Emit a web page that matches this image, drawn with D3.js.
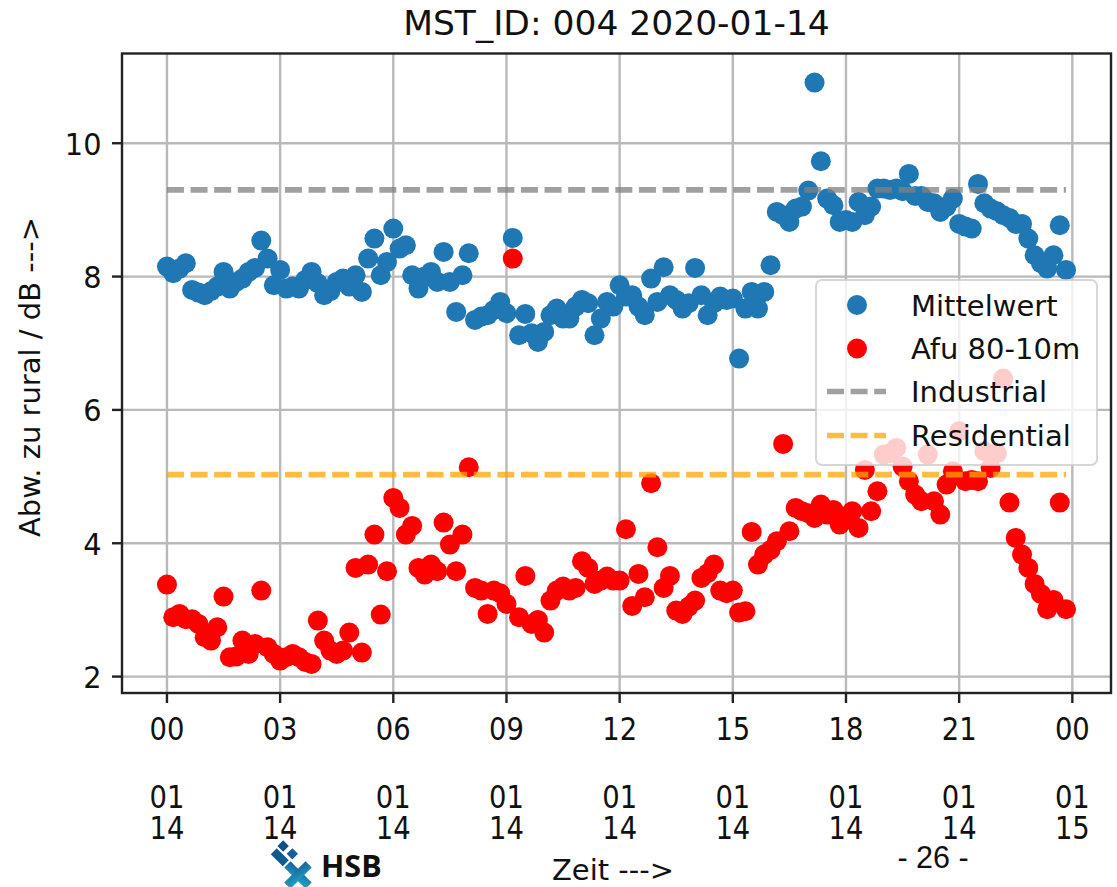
<!DOCTYPE html>
<html>
<head>
<meta charset="utf-8">
<script src="https://cdn.jsdelivr.net/npm/d3@7"></script>
<style>
  html, body { margin: 0; padding: 0; background: #fff; }
  svg { display: block; font-family: "DejaVu Sans", sans-serif; }
</style>
</head>
<body>
<svg id="chart" width="1117" height="887"></svg>
<script>
// ---- data -------------------------------------------------------------
const chartTitle = "MST_ID: 004 2020-01-14";
const startTime = "2020-01-14T00:00:00";
const stepMinutes = 10;

// Mittelwert (10-minute readings, 00:00 ... 23:50)
const mittelwert = [
  8.15, 8.05, 8.12, 8.20, 7.80, 7.76,
  7.72, 7.78, 7.85, 8.07, 7.82, 7.92,
  7.97, 8.07, 8.13, 8.54, 8.27, 7.87,
  8.10, 7.82, 7.85, 7.82, 7.95, 8.07,
  7.90, 7.72, 7.78, 7.92, 7.97, 7.85,
  8.02, 7.77, 8.27, 8.57, 8.02, 8.22,
  8.72, 8.42, 8.47, 8.02, 7.82, 8.00,
  8.07, 7.92, 8.37, 7.92, 7.47, 8.02,
  8.35, 7.35, 7.40, 7.42, 7.50, 7.62,
  7.45, 8.58, 7.12, 7.44, 7.15, 7.02,
  7.17, 7.42, 7.52, 7.37, 7.37, 7.55,
  7.65, 7.60, 7.12, 7.37, 7.62, 7.55,
  7.87, 7.70, 7.72, 7.55, 7.42, 7.97,
  7.62, 8.14, 7.72, 7.65, 7.52, 7.60,
  8.13, 7.72, 7.42, 7.60, 7.70, 7.65,
  7.67, 6.77, 7.52, 7.77, 7.52, 7.77,
  8.17, 8.97, 8.92, 8.82, 9.02, 9.05,
  9.29, 10.91, 9.73, 9.17, 9.07, 8.82,
  8.85, 8.82, 9.12, 8.92, 9.05, 9.32,
  9.32, 9.30, 9.32, 9.28, 9.54, 9.21,
  9.21, 9.12, 9.10, 8.97, 9.05, 9.17,
  8.79, 8.75, 8.72, 9.39, 9.10, 9.02,
  8.98, 8.92, 8.88, 8.79, 8.79, 8.57,
  8.32, 8.20, 8.12, 8.32, 8.77, 8.10
];

// Afu 80-10m (same time base)
const afu = [
  3.38, 2.89, 2.94, 2.86, 2.86, 2.79,
  2.59, 2.54, 2.74, 3.20, 2.29, 2.30,
  2.54, 2.34, 2.49, 3.29, 2.44, 2.34,
  2.24, 2.29, 2.34, 2.29, 2.22, 2.19,
  2.84, 2.54, 2.39, 2.34, 2.39, 2.66,
  3.63, 2.36, 3.68, 4.13, 2.93, 3.58,
  4.68, 4.53, 4.13, 4.26, 3.63, 3.53,
  3.68, 3.58, 4.31, 3.98, 3.58, 4.13,
  5.14, 3.33, 3.29, 2.94, 3.29, 3.25,
  3.09, 8.27, 2.89, 3.51, 2.79, 2.85,
  2.66, 3.14, 3.29, 3.35, 3.29, 3.33,
  3.73, 3.63, 3.39, 3.44, 3.50, 3.44,
  3.44, 4.21, 3.06, 3.54, 3.19, 4.90,
  3.94, 3.33, 3.51, 2.99, 2.94, 3.05,
  3.14, 3.48, 3.55, 3.68, 3.29, 3.25,
  3.29, 2.96, 2.98, 4.17, 3.68, 3.83,
  3.90, 4.03, 5.49, 4.18, 4.53, 4.48,
  4.45, 4.38, 4.58, 4.43, 4.50, 4.28,
  4.35, 4.48, 4.23, 5.10, 4.48, 4.78,
  5.33, 5.35, 5.43, 5.15, 4.93, 4.73,
  4.63, 5.33, 4.63, 4.43, 4.88, 5.08,
  5.68, 4.93, 4.95, 4.93, 5.38, 5.13,
  5.35, 6.47, 4.61, 4.08, 3.83, 3.63,
  3.39, 3.24, 3.01, 3.15, 4.61, 3.01
];

const industrialLevel = 9.3;
const residentialLevel = 5.03;

const yTickValues = [2, 4, 6, 8, 10];
const seriesNames = ["Mittelwert", "Afu 80-10m", "Industrial", "Residential"];
const yAxisLabel = "Abw. zu rural / dB --->";
const xAxisLabel = "Zeit --->";
const pageLabel = "- 26 -";
const logoText = "HSB";

// ---- layout -----------------------------------------------------------
const plot = { left: 122, right: 1111, top: 53.5, bottom: 693 };
const colors = {
  mittel: "#1f77b4", afu: "#ff0000",
  industrial: "#808080", residential: "#ffa500",
  grid: "#b9b9b9", spine: "#222"
};
const markerR = 10;

const t0 = new Date(startTime);
const times = mittelwert.map((_, i) => d3.timeMinute.offset(t0, i * stepMinutes));
const rows = times.map((t, i) => ({ t, m: mittelwert[i], a: afu[i] }));

// 5% margins around the data extent
const tExt = d3.extent(times);
const tPad = (tExt[1] - tExt[0]) * 0.05;
const x = d3.scaleTime()
  .domain([new Date(+tExt[0] - tPad), new Date(+tExt[1] + tPad)])
  .range([plot.left, plot.right]);

const allV = mittelwert.concat(afu);
const vExt = d3.extent(allV);
const vPad = (vExt[1] - vExt[0]) * 0.05;
const y = d3.scaleLinear()
  .domain([vExt[0] - vPad, vExt[1] + vPad])
  .range([plot.bottom, plot.top]);

const svg = d3.select("#chart");

// title
svg.append("text")
  .attr("x", (plot.left + plot.right) / 2).attr("y", 35)
  .attr("text-anchor", "middle")
  .attr("font-size", 34.5).attr("fill", "#111")
  .text(chartTitle);

// grid
const xTicks = x.ticks(d3.timeHour.every(3));
const grid = svg.append("g").attr("stroke", colors.grid).attr("stroke-width", 2.4);
grid.selectAll("line.gx").data(xTicks).join("line")
  .attr("x1", d => x(d)).attr("x2", d => x(d))
  .attr("y1", plot.top).attr("y2", plot.bottom);
grid.selectAll("line.gy").data(yTickValues).join("line")
  .attr("x1", plot.left).attr("x2", plot.right)
  .attr("y1", d => y(d)).attr("y2", d => y(d));

// scatter series
const pts = svg.append("g");
pts.selectAll("circle.m").data(rows).join("circle")
  .attr("cx", d => x(d.t)).attr("cy", d => y(d.m))
  .attr("r", markerR).attr("fill", colors.mittel);
pts.selectAll("circle.a").data(rows).join("circle")
  .attr("cx", d => x(d.t)).attr("cy", d => y(d.a))
  .attr("r", markerR).attr("fill", colors.afu);

// reference levels
const dash = "17,6.6";
[[industrialLevel, colors.industrial], [residentialLevel, colors.residential]].forEach(([lv, c]) => {
  svg.append("line")
    .attr("x1", x(tExt[0])).attr("x2", x(tExt[1]))
    .attr("y1", y(lv)).attr("y2", y(lv))
    .attr("stroke", c).attr("stroke-opacity", 0.75)
    .attr("stroke-width", 5.6).attr("stroke-dasharray", dash);
});

// spines
svg.append("rect")
  .attr("x", plot.left).attr("y", plot.top)
  .attr("width", plot.right - plot.left).attr("height", plot.bottom - plot.top)
  .attr("fill", "none").attr("stroke", colors.spine).attr("stroke-width", 2.4);

// x axis: ticks and multi-line date labels (hour / month / day)
const fH = d3.timeFormat("%H"), fM = d3.timeFormat("%m"), fD = d3.timeFormat("%d");
const xt = svg.append("g").selectAll("g").data(xTicks).join("g")
  .attr("transform", d => `translate(${x(d)},0)`);
xt.append("line").attr("y1", plot.bottom).attr("y2", plot.bottom + 10)
  .attr("stroke", colors.spine).attr("stroke-width", 2.4);
const xLab = xt.append("text")
  .attr("text-anchor", "middle")
  .attr("font-size", 31.5).attr("fill", "#111")
  .attr("transform", "scale(0.87,1)");
xLab.append("tspan").attr("x", 0).attr("y", 740).text(d => fH(d));
xLab.append("tspan").attr("x", 0).attr("y", 808).text(d => fM(d));
xLab.append("tspan").attr("x", 0).attr("y", 839).text(d => fD(d));

// y axis: ticks and labels
const yt = svg.append("g").selectAll("g").data(yTickValues).join("g")
  .attr("transform", d => `translate(0,${y(d)})`);
yt.append("line").attr("x1", plot.left - 10).attr("x2", plot.left)
  .attr("stroke", colors.spine).attr("stroke-width", 2.4);
yt.append("text")
  .attr("transform", "translate(101.5,0) scale(0.93,1)")
  .attr("y", 0.365 * 31)
  .attr("text-anchor", "end").attr("font-size", 31).attr("fill", "#111")
  .text(d => d);

// axis titles
svg.append("text")
  .attr("transform", `translate(40,377) rotate(-90)`)
  .attr("text-anchor", "middle").attr("font-size", 29).attr("fill", "#111")
  .text(yAxisLabel);
svg.append("text")
  .attr("x", 613).attr("y", 880).attr("text-anchor", "middle")
  .attr("font-size", 29).attr("fill", "#111")
  .text(xAxisLabel);

// legend
const lg = svg.append("g");
lg.append("rect").attr("x", 816).attr("y", 280).attr("width", 281).attr("height", 185)
  .attr("rx", 6).attr("fill", "#fff").attr("fill-opacity", 0.8)
  .attr("stroke", "#cccccc").attr("stroke-opacity", 0.8).attr("stroke-width", 2);
const legendRows = [
  { name: seriesNames[0], kind: "dot", color: colors.mittel, cy: 305 },
  { name: seriesNames[1], kind: "dot", color: colors.afu, cy: 348.5 },
  { name: seriesNames[2], kind: "dash", color: colors.industrial, cy: 391.5 },
  { name: seriesNames[3], kind: "dash", color: colors.residential, cy: 435.5 }
];
legendRows.forEach(r => {
  if (r.kind === "dot") {
    lg.append("circle").attr("cx", 857).attr("cy", r.cy).attr("r", markerR).attr("fill", r.color);
  } else {
    lg.append("line").attr("x1", 827).attr("x2", 886).attr("y1", r.cy).attr("y2", r.cy)
      .attr("stroke", r.color).attr("stroke-opacity", 0.75)
      .attr("stroke-width", 5.6).attr("stroke-dasharray", dash);
  }
  lg.append("text").attr("x", 911).attr("y", r.cy + 10.5)
    .attr("font-size", 29).attr("fill", "#111").text(r.name);
});

// footer: page number
svg.append("text")
  .attr("x", 933).attr("y", 868).attr("text-anchor", "middle")
  .attr("font-family", "'Liberation Sans', Arial, sans-serif")
  .attr("font-size", 30.5).attr("fill", "#111")
  .text(pageLabel);

// footer: HSB logo
const defs = svg.append("defs");
const grad = defs.append("linearGradient").attr("id", "logoGrad")
  .attr("x1", 0).attr("y1", 0).attr("x2", 1).attr("y2", 1);
grad.append("stop").attr("offset", "0%").attr("stop-color", "#1d5f98");
grad.append("stop").attr("offset", "100%").attr("stop-color", "#18aac8");

const logo = svg.append("g").attr("transform", "translate(298,875) rotate(45)");
logo.append("rect").attr("x", -31 - 4).attr("y", -10 - 4).attr("width", 8).attr("height", 8).attr("fill", "#0e4f85");
logo.append("rect").attr("x", -19 - 4).attr("y", -11 - 4).attr("width", 8).attr("height", 8).attr("fill", "#15609a");
logo.append("rect").attr("x", -25.5 - 8.5).attr("y", 0.3 - 4.2).attr("width", 17).attr("height", 8.4).attr("fill", "#125a92");
logo.append("rect").attr("x", -15).attr("y", -4.4).attr("width", 30).attr("height", 8.8).attr("fill", "url(#logoGrad)");
logo.append("rect").attr("x", -4.4).attr("y", -15).attr("width", 8.8).attr("height", 30).attr("fill", "url(#logoGrad)");

svg.append("text")
  .attr("x", 321).attr("y", 877)
  .attr("font-family", "'Open Sans', 'DejaVu Sans', sans-serif")
  .attr("font-weight", 700).attr("font-size", 30.5).attr("fill", "#111")
  .text(logoText);
</script>
</body>
</html>
